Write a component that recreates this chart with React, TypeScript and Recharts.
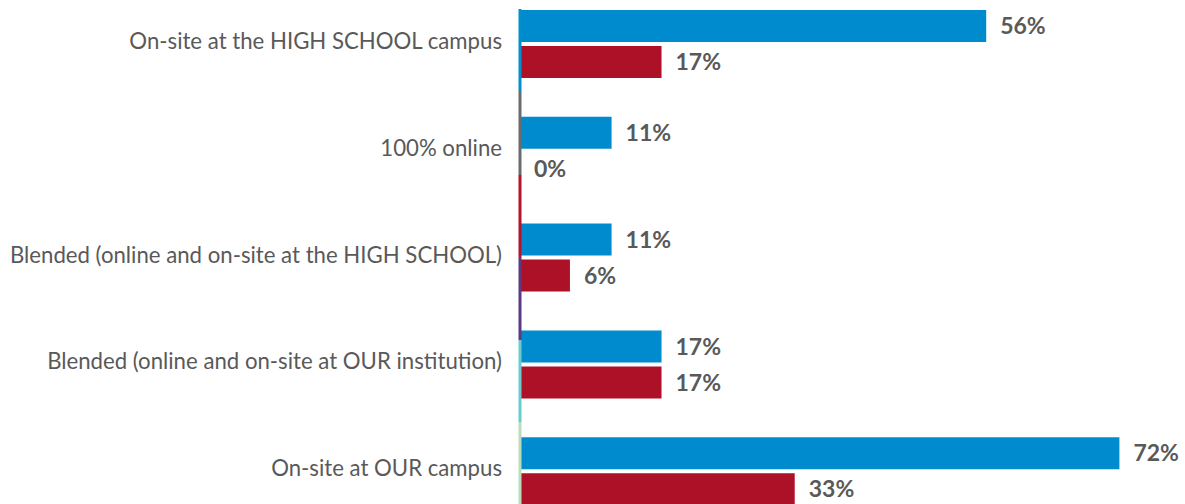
import React from "react";
import { BarChart, Bar, XAxis, YAxis, LabelList } from "recharts";

const categories = [
  "On-site at the HIGH SCHOOL campus",
  "100% online",
  "Blended (online and on-site at the HIGH SCHOOL)",
  "Blended (online and on-site at OUR institution)",
  "On-site at OUR campus",
];
const seriesA = [56, 11, 11, 17, 72];
const seriesB = [17, 0, 6, 17, 33];

// colored segments along the category axis
const axisColors = ["#0090D0", "#6B6B6B", "#B3142C", "#5A3A85", "#69CDCF", "#B8DCBC"];

const CHART_W = 1186;
const CHART_H = 534;
const LINE_START = 18.4; // where the segmented axis line begins / ends (svg px)
const LINE_END = 514;

const data = categories.map((c, i) => ({ category: c, a: seriesA[i], b: seriesB[i] }));

const pct = (v: any) => `${v}%`;
const labelStyle = { fill: "#595959", fontSize: 23, fontWeight: 700, fontFamily: "Lato" };

const CategoryTick = ({ x, y, payload }: any) => (
  <text x={x} y={y} dy={-4} textAnchor="end" dominantBaseline="central" fill="#595959" fontSize={22.2} fontFamily="Lato">
    {payload.value}
  </text>
);

export default function App() {
  const s0 = LINE_START / CHART_H;
  const span = (LINE_END - LINE_START) / CHART_H;
  const step = span / axisColors.length;

  return (
    <div
      style={{
        position: "absolute",
        left: 0,
        top: 0,
        width: 1185,
        height: 504,
        overflow: "hidden",
        background: "#fff",
      }}
    >
      <div style={{ position: "absolute", left: 0, top: -9 }}>
        <BarChart
          layout="vertical"
          width={CHART_W}
          height={CHART_H}
          data={data}
          margin={{ top: 0, right: 0, bottom: 0, left: 0 }}
          barGap={4}
          barSize={32}
        >
          <defs>
            <linearGradient id="axisSeg" gradientUnits="userSpaceOnUse" x1={0} y1={0} x2={0} y2={CHART_H}>
              <stop offset={0} stopColor="#fff" stopOpacity={0} />
              <stop offset={s0} stopColor="#fff" stopOpacity={0} />
              {axisColors.map((c, i) => (
                <React.Fragment key={c}>
                  <stop offset={s0 + step * i} stopColor={c} />
                  <stop offset={s0 + step * (i + 1)} stopColor={c} />
                </React.Fragment>
              ))}
            </linearGradient>
          </defs>
          <XAxis type="number" domain={[0, 80]} hide />
          <YAxis
            type="category"
            dataKey="category"
            width={520}
            axisLine={{ stroke: "url(#axisSeg)", strokeWidth: 3 }}
            tickLine={false}
            tickSize={0}
            tickMargin={18}
            tick={<CategoryTick />}
          />
          <Bar dataKey="a" fill="#008BCE" isAnimationActive={false}>
            <LabelList dataKey="a" position="right" offset={14} formatter={pct} style={labelStyle} />
          </Bar>
          <Bar dataKey="b" fill="#AD1128" minPointSize={0.01} isAnimationActive={false}>
            <LabelList dataKey="b" position="right" offset={14} formatter={pct} style={labelStyle} />
          </Bar>
        </BarChart>
      </div>
    </div>
  );
}
